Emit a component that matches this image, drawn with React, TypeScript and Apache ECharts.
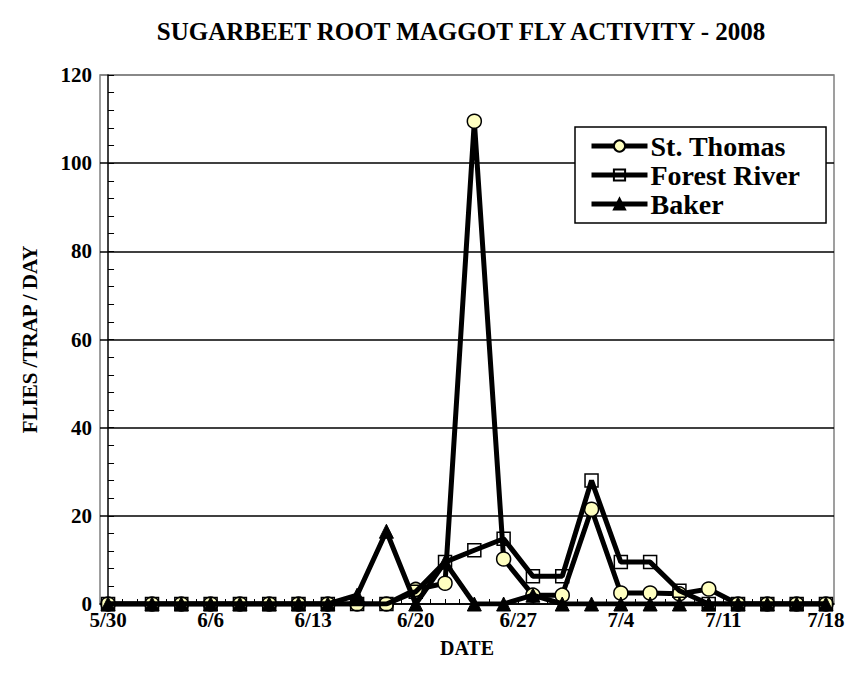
import React, { useEffect, useRef } from "react";
import * as echarts from "echarts";

const dates = ["5/30","6/2","6/4","6/6","6/8","6/10","6/12","6/14","6/16","6/18","6/20","6/22","6/24","6/26","6/28","6/30","7/2","7/4","7/6","7/8","7/10","7/12","7/14","7/16","7/18"];
const stThomas = [0,0,0,0,0,0,0,0,0,0,3.3,4.7,109.5,10.2,2,2,21.5,2.5,2.5,2.3,3.4,0,0,0,0];
const forestRiver = [0,0,0,0,0,0,0,0,0,0,2.8,9.5,12.2,14.8,6.3,6.3,28,9.5,9.5,3,0,0,0,0,0];
const baker = [0,0,0,0,0,0,0,0,2,16.5,0,9.5,0,0,2,0,0,0,0,0,0,0,0,0,0];
const tickLabels = ["5/30","6/6","6/13","6/20","6/27","7/4","7/11","7/18"];

const FONT = "'Liberation Serif', 'Times New Roman', serif";

function dayIndex(md: string): number {
  const [m, d] = md.split("/").map(Number);
  const t = Date.UTC(2008, m - 1, d);
  const t0 = Date.UTC(2008, 4, 30);
  return Math.round((t - t0) / 86400000);
}
function labelOf(v: number): string {
  const t = new Date(Date.UTC(2008, 4, 30) + Math.round(v) * 86400000);
  return `${t.getUTCMonth() + 1}/${t.getUTCDate()}`;
}

export default function App() {
  const ref = useRef<HTMLDivElement>(null);
  useEffect(() => {
    if (!ref.current) return;
    const chart = echarts.init(ref.current, null, { renderer: "svg" });
    const majorVals = tickLabels.map(dayIndex);
    const lastDay = majorVals[majorVals.length - 1];
    const dailyVals: number[] = [];
    for (let i = 0; i <= lastDay; i++) dailyVals.push(i);
    const mk = (arr: number[]) => dates.map((d, i) => [dayIndex(d), arr[i]]);
    const lineStyle = { color: "#000", width: 5 };
    chart.setOption({
      animation: false,
      backgroundColor: "#fff",
      title: {
        text: "SUGARBEET ROOT MAGGOT FLY ACTIVITY - 2008",
        left: 456,
        textAlign: "center",
        top: 14,
        textStyle: { fontFamily: FONT, fontWeight: "bold", fontSize: 25, color: "#000" },
      },
      grid: {
        left: 100, right: 16, top: 75, bottom: 83,
        show: true, borderColor: "#808080", borderWidth: 1.5, backgroundColor: "transparent",
      },
      legend: {
        orient: "vertical",
        left: 575, top: 127,
        backgroundColor: "#fff",
        borderColor: "#000",
        borderWidth: 1.5,
        borderRadius: 0,
        padding: [5, 26, 5, 14],
        itemWidth: 56,
        itemHeight: 14,
        itemGap: 1,
        lineStyle: { width: 5, color: "#000" },
        textStyle: { fontFamily: FONT, fontWeight: "bold", fontSize: 28, color: "#000", padding: [0, 0, 0, -2] },
        data: ["St. Thomas", "Forest River", "Baker"],
      },
      xAxis: {
        type: "value",
        min: -0.55,
        max: lastDay + 0.55,
        name: "DATE",
        nameLocation: "middle",
        nameGap: 34,
        nameTextStyle: { fontFamily: FONT, fontWeight: "bold", fontSize: 20, color: "#000" },
        axisLine: { show: true, lineStyle: { color: "#000", width: 1.5 } },
        axisTick: { show: true, inside: true, length: 5, customValues: dailyVals, lineStyle: { color: "#000", width: 1 } },
        axisLabel: {
          customValues: majorVals,
          formatter: (v: number) => labelOf(v),
          fontFamily: FONT, fontWeight: "bold", fontSize: 21, color: "#000", margin: 5,
        },
        splitLine: { show: false },
      },
      yAxis: {
        type: "value",
        min: 0, max: 120, interval: 20,
        name: "FLIES /TRAP / DAY",
        nameLocation: "middle",
        nameGap: 60,
        nameTextStyle: { fontFamily: FONT, fontWeight: "bold", fontSize: 21, color: "#000" },
        axisLine: { show: true, lineStyle: { color: "#000", width: 1.5 } },
        axisTick: { show: true, inside: true, length: 6, lineStyle: { color: "#000", width: 1 } },
        minorTick: { show: true, splitNumber: 5, length: 6, lineStyle: { color: "#000", width: 1 } },
        axisLabel: { fontFamily: FONT, fontWeight: "bold", fontSize: 21, color: "#000", margin: 8 },
        splitLine: { show: true, lineStyle: { color: ["#000", "#000", "#000", "#000", "#000", "#000", "#808080"], width: 1.5 } },
      },
      series: [
        {
          name: "St. Thomas", type: "line", data: mk(stThomas),
          symbol: "circle", symbolSize: 14,
          itemStyle: { color: "#FFFFC0", borderColor: "#000", borderWidth: 1.5 },
          lineStyle, z: 2,
        },
        {
          name: "Forest River", type: "line", data: mk(forestRiver),
          symbol: "rect", symbolSize: 13,
          itemStyle: { color: "rgba(255,255,255,0)", borderColor: "#000", borderWidth: 1.5 },
          lineStyle, z: 3,
        },
        {
          name: "Baker", type: "line", data: mk(baker),
          symbol: "triangle", symbolSize: 14,
          itemStyle: { color: "#000", borderColor: "#000", borderWidth: 1 },
          lineStyle, z: 4,
        },
      ],
    });
    return () => chart.dispose();
  }, []);
  return <div ref={ref} style={{ width: 850, height: 687, position: "absolute", left: 0, top: 0 }} />;
}
